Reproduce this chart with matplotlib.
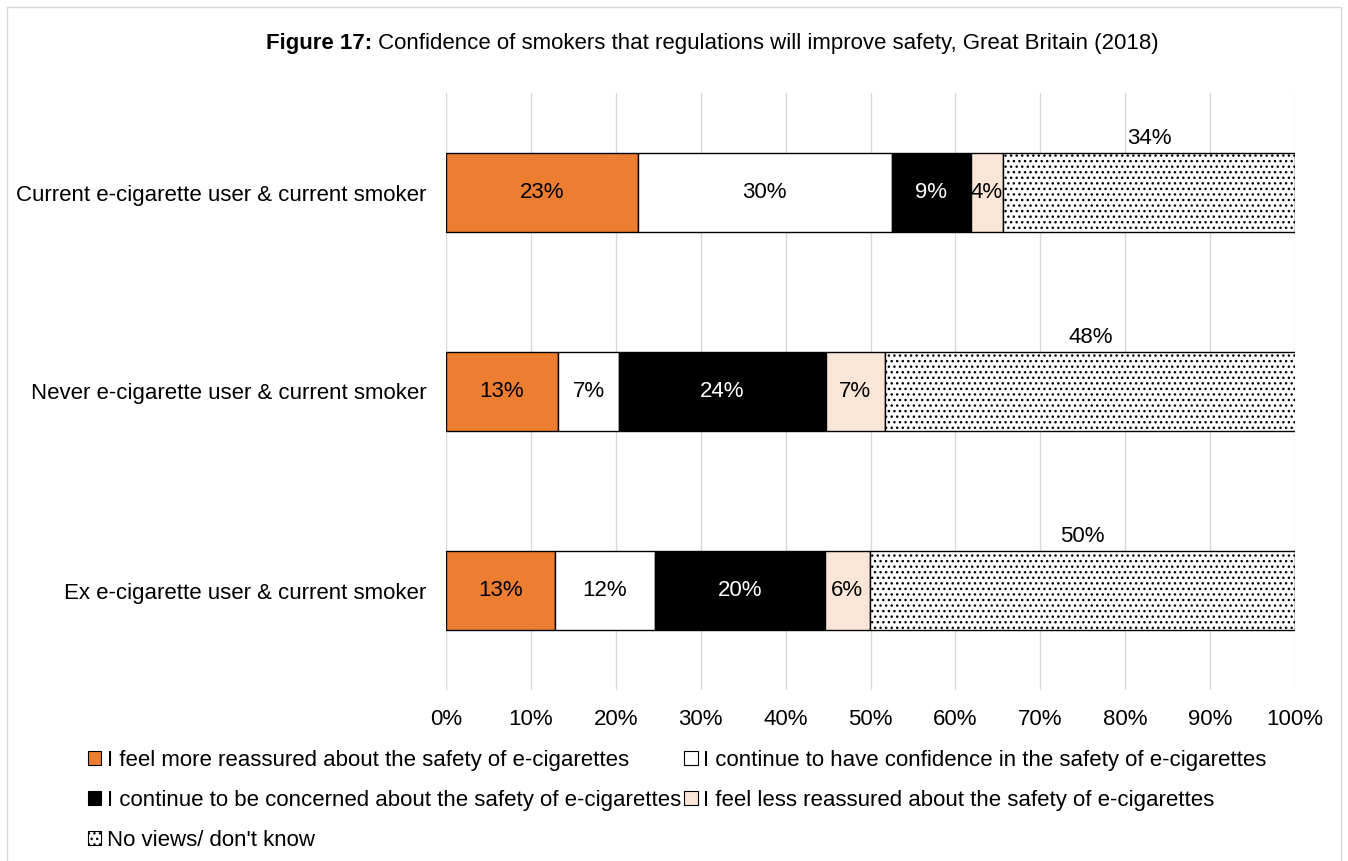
import numpy as np
import matplotlib.pyplot as plt
from matplotlib.patches import Patch, Rectangle

plt.rcParams['font.family'] = ['Liberation Sans', 'DejaVu Sans']
plt.rcParams['hatch.linewidth'] = 1.0

groups = ["Current e-cigarette user & current smoker",
          "Never e-cigarette user & current smoker",
          "Ex e-cigarette user & current smoker"]
responses = ["I feel more reassured about the safety of e-cigarettes",
             "I continue to have confidence in the safety of e-cigarettes",
             "I continue to be concerned about the safety of e-cigarettes",
             "I feel less reassured about the safety of e-cigarettes",
             "No views/ don't know"]
# shares (%) per group
more_reassured = [22.6, 13.2, 12.8]
still_confident = [29.9, 7.2, 11.8]
still_concerned = [9.3, 24.3, 20.0]
less_reassured = [3.8, 7.0, 5.3]
no_views = [34.4, 48.4, 50.1]
labels = [["23%", "13%", "13%"], ["30%", "7%", "12%"], ["9%", "24%", "20%"],
          ["4%", "7%", "6%"], ["34%", "48%", "50%"]]

series = [more_reassured, still_confident, still_concerned, less_reassured, no_views]
colors = ["#ED7D31", "white", "black", "#FBE5D6", "white"]
hatches = [None, None, None, None, "..."]
txt_colors = ["black", "black", "white", "black", "black"]
fs = 16

fig = plt.figure(figsize=(13.48, 8.61), dpi=100)
ax = fig.add_axes([446/1348, 1-690/861, 849/1348, 597/861])

y = np.arange(len(groups))
left = np.zeros(len(groups))
handles = []
for i, vals in enumerate(series):
    vals = np.array(vals)
    bars = ax.barh(y, vals, left=left, height=0.395, color=colors[i],
                   edgecolor="black", linewidth=1.0, hatch=hatches[i], zorder=3)
    for j, b in enumerate(bars):
        cx = left[j] + vals[j] / 2
        if i == 4:
            ax.text(cx, y[j] - 0.2 - 0.02, labels[i][j], ha="center", va="bottom",
                    fontsize=fs, color="black")
        else:
            ax.text(cx, y[j], labels[i][j], ha="center", va="center",
                    fontsize=fs, color=txt_colors[i], zorder=4)
    left = left + vals
    handles.append(Patch(facecolor=colors[i], edgecolor="black", hatch=hatches[i],
                         linewidth=0.8, label=responses[i]))

ax.set_xlim(0, 100)
ax.set_ylim(2.5, -0.5)
ax.set_xticks(np.arange(0, 101, 10))
ax.set_xticklabels([f"{v}%" for v in range(0, 101, 10)], fontsize=fs)
ax.set_yticks(y)
ax.set_yticklabels(groups, fontsize=fs)
ax.tick_params(axis="both", length=0)
ax.tick_params(axis="x", pad=14)
ax.tick_params(axis="y", pad=14)
ax.grid(axis="x", color="#D9D9D9", linewidth=1.0, zorder=0)
for s in ax.spines.values():
    s.set_visible(False)

# title: bold prefix + normal text
t1 = fig.text(266/1348, 1-44/861, "Figure 17:", fontsize=fs, fontweight="bold",
              ha="left", va="center")
ax.annotate(" Confidence of smokers that regulations will improve safety, Great Britain (2018)",
            xy=(1, 0.5), xycoords=t1, ha="left", va="center", fontsize=fs)

# legend: column-major order to get the reference layout
order = [0, 2, 4, 1, 3]
fig.legend([handles[k] for k in order], [responses[k] for k in order],
           loc="upper left", bbox_to_anchor=(88/1348, 1-750/861), ncol=2,
           frameon=False, fontsize=fs, handlelength=0.6, handleheight=0.6,
           handletextpad=0.25, columnspacing=0.15, labelspacing=0.85,
           borderaxespad=0, borderpad=0)

fig.patches.append(Rectangle((7/1348, -0.01), 1334/1348, 1.01 - 7/861,
                             transform=fig.transFigure, fill=False,
                             edgecolor="#D9D9D9", linewidth=1.0))

fig.savefig("out.png", dpi=100)
